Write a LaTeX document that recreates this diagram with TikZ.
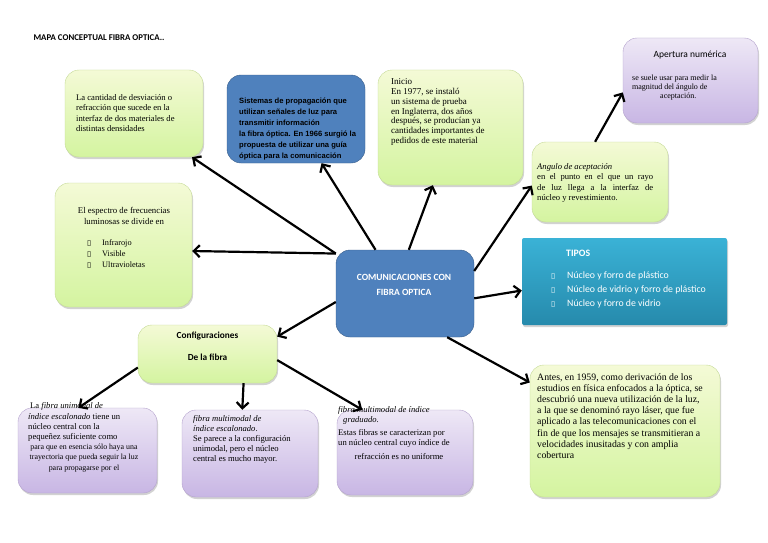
\documentclass[tikz,border=0pt]{standalone}
\usepackage{fontspec}
\setmainfont{Liberation Serif}
\newfontfamily\calfont{Carlito}
\newfontfamily\arialfont{Liberation Sans}
\newfontfamily\symfont{DejaVu Sans}
\usetikzlibrary{arrows.meta,shadows}
\definecolor{greentop}{RGB}{244,250,214}
\definecolor{greenbot}{RGB}{212,244,160}
\definecolor{greenline}{RGB}{196,218,150}
\definecolor{lilatop}{RGB}{238,232,246}
\definecolor{lilabot}{RGB}{200,182,228}
\definecolor{lilaline}{RGB}{180,162,205}
\definecolor{bluefill}{RGB}{79,129,189}
\definecolor{blueline}{RGB}{56,93,138}
\definecolor{tipostop}{RGB}{58,178,214}
\definecolor{tiposbot}{RGB}{38,138,172}
\newcommand{\fbul}{{\symfont\fontsize{7.5}{7.5}\selectfont ▯}}
\tikzstyle{greenbox}=[draw=greenline,rounded corners=14pt,top color=greentop,bottom color=greenbot,drop shadow={shadow xshift=1pt,shadow yshift=-2pt,opacity=0.35},inner sep=0pt]
\tikzstyle{lilabox}=[draw=lilaline,rounded corners=14pt,top color=lilatop,bottom color=lilabot,drop shadow={shadow xshift=1pt,shadow yshift=-2pt,opacity=0.35},inner sep=0pt]
\tikzstyle{bluebox}=[draw=blueline,fill=bluefill,rounded corners=14pt,inner sep=0pt]
\tikzstyle{tiposbox}=[rounded corners=2pt,top color=tipostop,bottom color=tiposbot,drop shadow={shadow xshift=1pt,shadow yshift=-2pt,opacity=0.35},inner sep=0pt]
\tikzstyle{txt}=[anchor=north west,inner sep=0pt,align=left,font={\fontsize{8.6}{10.6}\selectfont}]
\tikzstyle{link}=[line width=2.2pt,-{Straight Barb[length=6pt,width=12pt]}]

\begin{document}
\begin{tikzpicture}[x=1pt,y=-1pt]
    \useasboundingbox[fill=white] (0,0) rectangle (768,543);
    % boxes
    \node [greenbox,minimum width=138pt,minimum height=87pt] (desv) at (134,113.5) {};
    \node [bluebox,minimum width=138pt,minimum height=88pt] (sist) at (296,119) {};
    \node [greenbox,minimum width=145pt,minimum height=115pt] (inicio) at (450.5,127.5) {};
    \node [lilabox,minimum width=135pt,minimum height=85pt] (apert) at (690.5,80.5) {};
    \node [greenbox,minimum width=136pt,minimum height=80pt] (angulo) at (600,182) {};
    \node [greenbox,minimum width=137pt,minimum height=124pt] (espectro) at (123.5,245) {};
    \node [bluebox,minimum width=138pt,minimum height=87pt] (fibra) at (405,293.5) {};
    \node [tiposbox,minimum width=205pt,minimum height=87pt] (tipos) at (624.5,281.5) {};
    \node [greenbox,minimum width=139pt,minimum height=58pt] (config) at (207.5,354) {};
    \node [lilabox,minimum width=139pt,minimum height=85pt] (unimodal) at (87.5,450.5) {};
    \node [lilabox,minimum width=136pt,minimum height=87pt] (multiesc) at (250,453.5) {};
    \node [lilabox,minimum width=136pt,minimum height=85pt] (multigrad) at (405,452.5) {};
    \node [greenbox,minimum width=190pt,minimum height=132pt] (antes) at (625,431) {};

    % connectors
    \draw [link] (fibra.150) -- (desv.-37);
    \draw [link] (fibra.124) -- (sist.-60);
    \draw [link] (fibra.85) -- (inicio.-107);
    \draw [link] (fibra.18) -- (angulo.183);
    \draw [link] (angulo.97) -- (apert.190);
    \draw [link] (fibra.-4) -- (tipos.185);
    \draw [link] (fibra.-46) -- (antes.153);
    \draw [link] (fibra.150) -- (espectro.-5);
    \draw [link] (fibra.187) -- (config.14);
    \draw [link] (config.191) -- (unimodal.102);
    \draw [link] (config.-39) -- (multiesc.100);
    \draw [link] (config.-5) -- (multigrad.135);

    % texts
    \node [anchor=west,font={\calfont\bfseries\fontsize{8.8}{9}\selectfont}] (titulo) at (30,38) {MAPA CONCEPTUAL FIBRA OPTICA..};
    \node [txt] (tdesv) at (76,94) {La cantidad de desviación o\\refracción que sucede en la\\interfaz de dos materiales de\\distintas densidades};
    \node [txt,font={\arialfont\bfseries\fontsize{7.6}{11}\selectfont}] (tsist) at (239,97.5) {Sistemas de propagación que\\utilizan señales de luz para\\transmitir información\\la fibra óptica. En 1966 surgió la\\propuesta de utilizar una guía\\óptica para la comunicación};
    \node [txt,font={\fontsize{9}{9.8}\selectfont}] (tinicio) at (391,78.5) {Inicio\\En 1977, se instaló\\un sistema de prueba\\en Inglaterra, dos años\\después, se producían ya\\cantidades importantes de\\pedidos de este material};
    \node [font={\calfont\fontsize{9.5}{9.5}\selectfont}] (tapert) at (690,55) {Apertura numérica};
    \node [txt,font={\fontsize{8}{9}\selectfont}] (tapertb) at (632,75) {se suele usar para medir la\\magnitud del ángulo de\\\hspace*{28pt}aceptación.};
    \node [txt] (tangulo) at (537,163) {\textit{Angulo de aceptación}\\\makebox[116pt][s]{en el punto en el que un rayo}\\\makebox[116pt][s]{de luz llega a la interfaz de}\\núcleo y revestimiento.};
    \node [align=center,font={\fontsize{8.8}{11}\selectfont}] (tespectro) at (124,216) {El espectro de frecuencias\\luminosas se divide en};
    \node [txt,font={\fontsize{8.3}{11.2}\selectfont}] (tlista) at (87,239) {\makebox[15pt][l]{\fbul}Infrarojo\\\makebox[15pt][l]{\fbul}Visible\\\makebox[15pt][l]{\fbul}Ultravioletas};
    \node [align=center,text=white,font={\calfont\bfseries\fontsize{9.5}{14.5}\selectfont}] (tfibra) at (404,285) {COMUNICACIONES CON\\FIBRA OPTICA};
    \node [txt,text=white,font={\calfont\fontsize{9.8}{13.8}\selectfont}] (ttipos) at (551,249.5) {\hspace*{15pt}\textbf{TIPOS}\\[8.5pt]\makebox[16pt][l]{\fbul}Núcleo y forro de plástico\\\makebox[16pt][l]{\fbul}Núcleo de vidrio y forro de plástico\\\makebox[16pt][l]{\fbul}Núcleo y forro de vidrio};
    \node [align=center,font={\calfont\bfseries\fontsize{9.3}{22.7}\selectfont}] (tconfig) at (207.5,346.3) {Configuraciones\\De la fibra};
    \node [txt,font={\fontsize{8.6}{10.3}\selectfont}] (tuni) at (28,402.5) {\hspace*{2pt}La \textit{fibra unimodal de}\\\textit{índice escalonado} tiene un\\núcleo central con la\\pequeñez suficiente como};
    \node [align=center,font={\fontsize{7.9}{10.8}\selectfont}] (tunib) at (84,458) {para que en esencia sólo haya una\\trayectoria que pueda seguir la luz\\para propagarse por el};
    \node [txt,font={\fontsize{8.6}{10}\selectfont}] (tmesc) at (193,415.5) {\textit{fibra multimodal de}\\\textit{índice escalonado}.\\Se parece a la configuración\\unimodal, pero el núcleo\\central es mucho mayor.};
    \node [txt,font={\fontsize{8.6}{9.5}\selectfont}] (tmgrad) at (338,406.5) {\textit{fibra multimodal de índice}\\\hspace*{5pt}\textit{graduado}.\\[4pt]Estas fibras se caracterizan por\\un núcleo central cuyo índice de};
    \node [font={\fontsize{8.6}{10}\selectfont}] (tmgradb) at (399,457) {refracción es no uniforme};
    \node [txt,font={\fontsize{9.8}{11.2}\selectfont}] (tantes) at (537,373) {Antes, en 1959, como derivación de los\\estudios en física enfocados a la óptica, se\\descubrió una nueva utilización de la luz,\\a la que se denominó rayo láser, que fue\\aplicado a las telecomunicaciones con el\\fin de que los mensajes se transmitieran a\\velocidades inusitadas y con amplia\\cobertura};
\end{tikzpicture}
\end{document}
